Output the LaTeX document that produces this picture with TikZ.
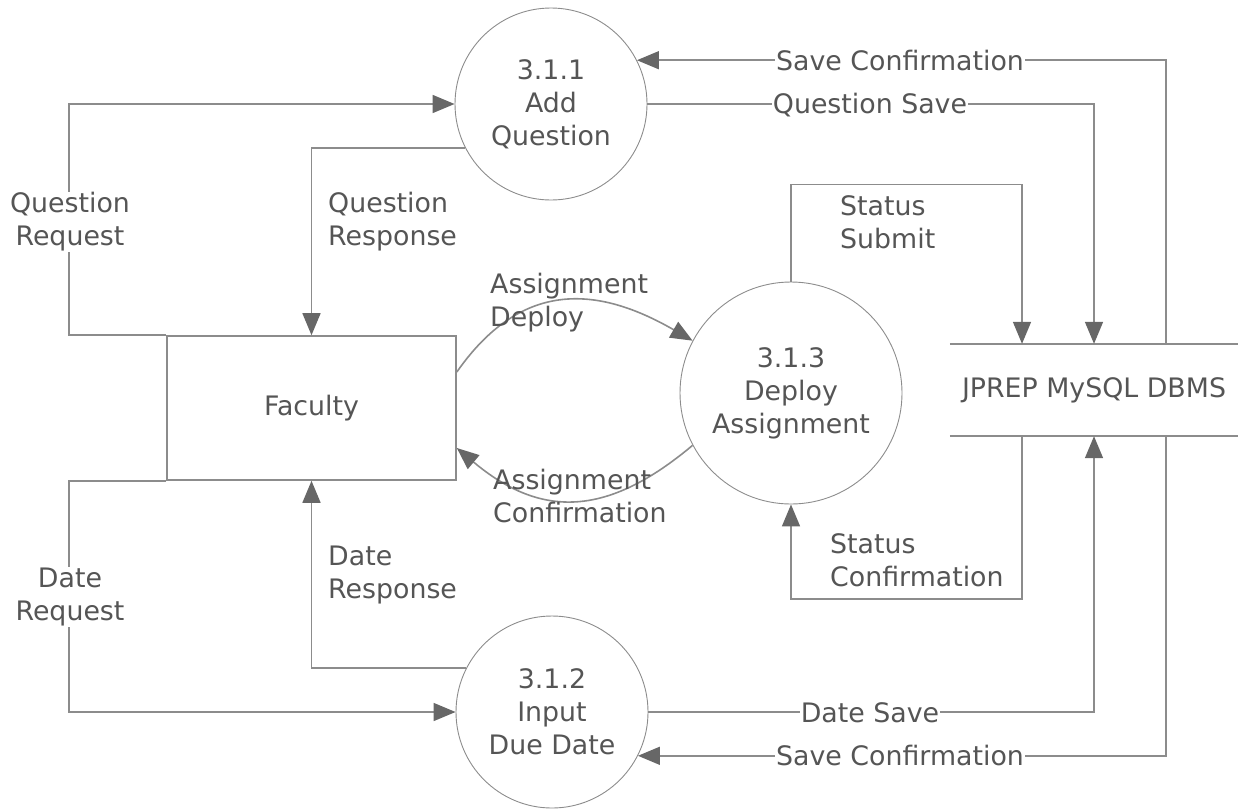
\documentclass[tikz,border=0pt]{standalone}
\usepackage{fontspec}
\setmainfont{DejaVu Sans}
\usetikzlibrary{arrows.meta,positioning,calc}
\definecolor{linegray}{HTML}{8C8C8C}
\definecolor{tipgray}{HTML}{676767}
\definecolor{txtgray}{HTML}{555555}
\newcommand{\pw}{192pt}
\newcommand{\dx}{72pt}
\newcommand{\mproc}[4]{
  \node [proc,minimum size=#3] (#4) at #1 {#2};
}
\newcommand{\mlabel}[4][flowtext]{
  \node [#1] (#4) at #2 {#3};
}

\begin{document}
\begin{tikzpicture}[x=1pt,y=-1pt,font=\fontsize{26.8pt}{33pt}\selectfont,
  >={Triangle[length=22pt,width=18pt,color=tipgray]},
  proc/.style={circle,draw=linegray,line width=0.9pt,text=txtgray,align=center,inner sep=0pt},
  entity/.style={draw=linegray,line width=1.6pt,text=txtgray,minimum width=289pt,minimum height=144pt},
  store/.style={text=txtgray,minimum width=288pt,minimum height=92pt},
  flow/.style={draw=linegray,line width=1.6pt,->},
  link/.style={draw=linegray,line width=1.6pt},
  flowtext/.style={text=txtgray,fill=white,inner sep=1pt,align=center},
  sidetext/.style={text=txtgray,inner sep=0pt,align=left,anchor=west}]
  \useasboundingbox (0,0) rectangle (1238,809);

  \node [entity] (fac) at (311.5,408) {Faculty};
  \mproc{(551,104)}{3.1.1\\Add\\Question}{\pw}{p311}
  \mproc{(552,712)}{3.1.2\\Input\\Due Date}{\pw}{p312}
  \mproc{(791,393)}{3.1.3\\Deploy\\Assignment}{222pt}{p313}
  \node [store] (db) at (1094,390) {JPREP MySQL DBMS};
  \draw [link] (db.north west) -- (db.north east);
  \draw [link] (db.south west) -- (db.south east);

  % faculty side
  \draw [flow] (fac.north west) -- ++(-97,0) |- (p311.west);
  \draw [flow] (p311.207) -| (fac.north);
  \draw [flow] (fac.south west) -- ++(-97,0) |- (p312.west);
  \draw [flow] (p312.153) -| (fac.south);
  \draw [flow] ([yshift=36pt]fac.east) to[out=55,in=150,looseness=1.2] (p313.152);
  \draw [flow] (p313.208) to[out=220,in=-40,looseness=1.2] ([yshift=-40pt]fac.east);

  % store side
  \draw [flow] (p311.east) -| (db.north);
  \draw [flow] ([xshift=\dx]db.north) |- (p311.27);
  \draw [flow] (p313.north) -- ++(0,-97) -| ([xshift=-\dx]db.north);
  \draw [flow] ([xshift=-\dx]db.south) -- ++(0,163) -| (p313.south);
  \draw [flow] (p312.east) -| (db.south);
  \draw [flow] ([xshift=\dx]db.south) |- (p312.-27);

  \mlabel{(70,222)}{Question\\Request}{lqreq}
  \mlabel{(70,597)}{Date\\Request}{ldreq}
  \mlabel[sidetext]{(328,222)}{Question\\Response}{lqres}
  \mlabel[sidetext]{(328,575)}{Date\\Response}{ldres}
  \mlabel[sidetext]{(490,303)}{Assignment\\Deploy}{ladep}
  \mlabel[sidetext]{(493,496)}{Assignment\\Confirmation}{lacon}
  \mlabel[sidetext]{(840,222)}{Status\\Submit}{lssub}
  \mlabel[sidetext]{(830,560)}{Status\\Confirmation}{lscon}
  \mlabel{(870,105)}{Question Save}{lqsav}
  \mlabel{(900,61)}{Save Confirmation}{lsct}
  \mlabel{(870,713)}{Date Save}{ldsav}
  \mlabel{(900,755)}{Save Confirmation}{lscb}
\end{tikzpicture}
\end{document}
